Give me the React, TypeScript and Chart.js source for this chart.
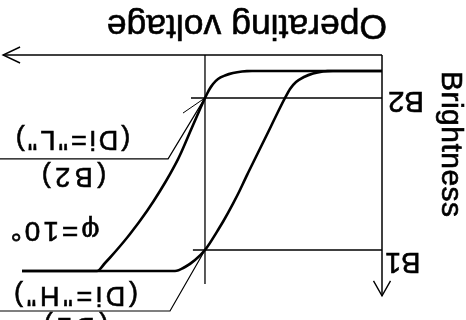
import React, { useEffect, useRef } from "react";
import { Chart, registerables } from "chart.js";
Chart.register(...registerables);

// Operating voltage (arbitrary units) and brightness (arbitrary units)
const curveL_V = [0, 34.03, 36.65, 39.01, 41.1, 42.93, 44.24, 45.29, 46.34, 50.26, 52.88, 55.5, 58.12, 61.52, 65.97, 69.9, 72.51, 74.61, 94.24];
const curveL_B = [6.04, 6.04, 6.23, 6.79, 7.74, 9.06, 10.94, 13.21, 16.2, 29.06, 37.74, 44.91, 51.32, 58.87, 67.55, 74.34, 78.49, 81.51, 81.51];
const curveH_V = [0, 12.83, 15.45, 18.06, 20.42, 22.51, 24.08, 25.39, 30.24, 35.08, 37.7, 40.31, 42.93, 46.34, 48.95, 51.57, 54.19, 94.24];
const curveH_B = [6.04, 6.04, 6.23, 6.98, 8.3, 10.19, 12.83, 16.2, 30.38, 44.53, 52.45, 59.62, 66.04, 73.58, 77.36, 80.0, 81.51, 81.51];

const V0 = 46.34; // reference operating voltage
const V0_LINE_TOP = 86.4;
const B1 = 73.58;
const B2 = 16.2;
const B1_LINE_END = 49.5;
const B2_LINE_END = 50.0;

const leaderL_V = [46.34, 56.0, 100];
const leaderL_B = [16.2, 39.2, 39.2];
const leaderL2_V = [46.34, 52.1];
const leaderL2_B = [16.2, 21.9];
const leaderH_V = [46.34, 55.5, 100];
const leaderH_B = [73.58, 96.6, 96.6];

const AXIS_V_END = 99.2;
const AXIS_B_END = 90.9;

const tickLabels = ["B1", "B2"];
const xTitle = "Operating voltage";
const yTitle = "Brightness";
const noteL = ['(Di="L")', "(B2)"];
const noteH = ['(Di="H")', "(B1)"];
const phiNote = "φ=10°";

const pts = (xs: number[], ys: number[]) => xs.map((v, i) => ({ x: v, y: ys[i] }));

const FONT = "'Liberation Sans', Arial, sans-serif";

const annot = {
  id: "annot",
  afterDatasetsDraw(chart: any) {
    const { ctx, scales } = chart;
    const x = scales.x, y = scales.y;
    ctx.save();
    ctx.strokeStyle = "#000";
    ctx.fillStyle = "#000";
    ctx.lineWidth = 1.4;
    const x0 = x.getPixelForValue(0);
    const y0 = y.getPixelForValue(0);
    const xt = x.getPixelForValue(AXIS_V_END);
    const yt = y.getPixelForValue(AXIS_B_END);
    ctx.beginPath();
    ctx.moveTo(xt - 17, y0 - 8);
    ctx.lineTo(xt, y0);
    ctx.lineTo(xt - 17, y0 + 8);
    ctx.stroke();
    ctx.beginPath();
    ctx.moveTo(x0 - 8.5, yt + 15);
    ctx.lineTo(x0, yt);
    ctx.lineTo(x0 + 8.5, yt + 15);
    ctx.stroke();

    const txt = (s: string, px: number, py: number, size: number, align: string, ls = 0) => {
      ctx.font = `${size}px ${FONT}`;
      (ctx as any).letterSpacing = `${ls}px`;
      ctx.textAlign = align;
      ctx.textBaseline = "alphabetic";
      const ox = px + (align === "center" ? ls / 2 : 0);
      ctx.lineWidth = 0.6;
      ctx.fillText(s, ox, py);
      ctx.strokeText(s, ox, py);
    };
    // x title
    txt(xTitle, 219, y0 + 40, 35.5, "center");
    // y title
    ctx.save();
    ctx.translate(24, 176);
    ctx.rotate(-Math.PI / 2);
    txt(yTitle, 0, 0, 30, "center", 0.5);
    ctx.restore();
    // tick labels
    txt(tickLabels[1], x0 - 6, y.getPixelForValue(B2) + 6, 29.5, "right");
    txt(tickLabels[0], x0 - 3, y.getPixelForValue(B1) - 3, 29, "right");
    // notes
    txt(noteL[0], 393, 189, 27, "center", 3);
    txt(noteL[1], 392, 152, 27, "center", 4.5);
    txt(phiNote, 411, 98, 28, "center", 3);
    txt(noteH[0], 390, 33, 27, "center", 3.7);
    txt(noteH[1], 390, 2, 27, "center", 4.5);
    ctx.restore();
  },
};

export default function App() {
  const ref = useRef<HTMLCanvasElement>(null);
  useEffect(() => {
    document.body.style.margin = "0";
    const line = (data: any[], w: number) => ({
      data,
      showLine: true,
      borderColor: "#000",
      backgroundColor: "#000",
      borderWidth: w,
      pointRadius: 0,
      fill: false,
      clip: false,
    });
    const curve = (data: any[]) => ({ ...line(data, 2.6), cubicInterpolationMode: "monotone" });
    const chart = new Chart(ref.current!, {
      type: "scatter",
      data: {
        datasets: [
          line(pts([0, AXIS_V_END], [0, 0]), 1.5),
          line(pts([0, 0], [0, AXIS_B_END]), 1.5),
          line(pts([V0, V0], [0, V0_LINE_TOP]), 1.3),
          line(pts([0, B2_LINE_END], [B2, B2]), 1.4),
          line(pts([0, B1_LINE_END], [B1, B1]), 1.4),
          line(pts(leaderL_V, leaderL_B), 1.2),
          line(pts(leaderL2_V, leaderL2_B), 1.0),
          line(pts(leaderH_V, leaderH_B), 1.2),
          curve(pts(curveL_V, curveL_B)),
          curve(pts(curveH_V, curveH_B)),
        ] as any,
      },
      options: {
        animation: false,
        responsive: false,
        devicePixelRatio: 1,
        layout: { padding: { left: 84, right: 0, top: 0, bottom: 55 } },
        plugins: { legend: { display: false }, tooltip: { enabled: false } },
        scales: {
          x: { type: "linear", min: 0, max: 100, display: false },
          y: { type: "linear", min: 0, max: 100, display: false },
        },
      } as any,
      plugins: [annot],
    });
    return () => chart.destroy();
  }, []);
  return (
    <div
      style={{
        position: "fixed",
        left: 0,
        top: 0,
        width: 466,
        height: 320,
        background: "#fff",
        transform: "rotate(180deg)",
      }}
    >
      <canvas ref={ref} width={466} height={320} style={{ display: "block" }} />
    </div>
  );
}
